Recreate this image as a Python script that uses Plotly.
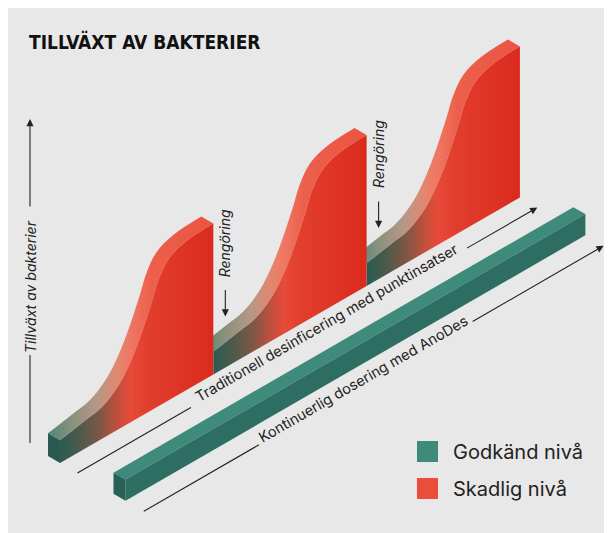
import math
import plotly.graph_objects as go

# ---------------- data ----------------
cleaning_days = [0, 1, 2]          # start of each growth cycle (cleaning happens at day 1 and 2)
period_end = 3                      # end of the observed period
cycle_phase = [0, 0.165, 0.274, 0.383, 0.469, 0.535, 0.599, 0.644, 0.710, 0.817, 1.0]
growth_traditional = [15, 18.5, 21, 29, 41.6, 55.4, 71.5, 84, 93.7, 98.5, 100]   # % of max
growth_continuous = 14              # % of max, AnoDes level
title_text = "TILLVÄXT AV BAKTERIER"
y_label = "Tillväxt av bakterier"
cleaning_label = "Rengöring"
lane_labels = ["Traditionell desinficering med punktinsatser", "Kontinuerlig dosering med AnoDes"]
legend_labels = ["Godkänd nivå", "Skadlig nivå"]

# ---------------- style / projection ----------------
COS, SIN = math.cos(math.radians(30)), math.sin(math.radians(30))
X0, Y0 = 48, 456          # page position of (t=0, d=0, h=0)
DAY = 177                 # px per day along the time axis
HPX = 1.51                # px per growth %
RED_D = (0, 13.9)
LINE1_D = 34
GREEN_D = (75.6, 89.5)
LINE2_D = 110.6
INK = "#222222"
BG = "#e8e8e8"
GREEN_TOP, GREEN_FRONT, GREEN_END = "#3e8a7b", "#2e6d61", "#2a6056"
RED_SWATCH = "#eb4d3b"
FONT = "Inter, Lato, 'Noto Sans', sans-serif"
PAGE_MARGIN = 8           # browser body margin


def P(t, d, h):
    return X0 + (t + d) * COS, Y0 - (t - d) * SIN - h


def poly(points, color):
    xs = [p[0] for p in points] + [points[0][0]]
    ys = [p[1] for p in points] + [points[0][1]]
    return go.Scatter(x=xs, y=ys, mode="lines", fill="toself", fillcolor=color,
                      line=dict(width=0), hoverinfo="skip")


band_scale = [[0, "#4f8878"], [0.15, "#8c917d"], [0.3, "#b69886"], [0.42, "#e3866f"],
              [0.5, "#ef7763"], [0.62, "#ec604b"], [1, "#eb5442"]]
face_scale = [[0, "#295c52"], [0.12, "#4a5a4b"], [0.25, "#7b5746"], [0.36, "#b8503e"],
              [0.46, "#e74b39"], [0.56, "#e23f2f"], [1, "#db2a1d"]]

fig = go.Figure()

# red lane: draw cycles from back to front
hs = [g * HPX for g in growth_traditional]
for k in reversed(range(len(cleaning_days))):
    ts = [(cleaning_days[k] + p) * DAY for p in cycle_phase]
    c0 = [P(t, RED_D[0], h) for t, h in zip(ts, hs)]
    c1 = [P(t, RED_D[1], h) for t, h in zip(ts, hs)]
    base = [P(ts[0], RED_D[1], 0), P(ts[-1], RED_D[1], 0)]
    # top band
    fig.add_trace(go.Scatter(x=[p[0] for p in c0], y=[p[1] for p in c0], mode="lines",
                             line=dict(width=0, shape="spline"), hoverinfo="skip"))
    fig.add_trace(go.Scatter(x=[p[0] for p in c1], y=[p[1] for p in c1], mode="lines",
                             line=dict(width=0, shape="spline"), fill="tonexty",
                             fillgradient=dict(type="horizontal", colorscale=band_scale,
                                               start=c0[0][0], stop=c1[-1][0]),
                             hoverinfo="skip"))
    # front face
    fig.add_trace(go.Scatter(x=[p[0] for p in base], y=[p[1] for p in base], mode="lines",
                             line=dict(width=0), hoverinfo="skip"))
    fig.add_trace(go.Scatter(x=[p[0] for p in c1], y=[p[1] for p in c1], mode="lines",
                             line=dict(width=0, shape="spline"), fill="tonexty",
                             fillgradient=dict(type="horizontal", colorscale=face_scale,
                                               start=c1[0][0], stop=c1[-1][0]),
                             hoverinfo="skip"))

# red lane end face
h0 = hs[0]
fig.add_trace(poly([P(0, RED_D[0], 0), P(0, RED_D[1], 0), P(0, RED_D[1], h0), P(0, RED_D[0], h0)], "#285a50"))

# green lane (continuous dosing)
L = period_end * DAY
hg = growth_continuous * HPX
da, db = GREEN_D
fig.add_trace(poly([P(0, da, hg), P(L, da, hg), P(L, db, hg), P(0, db, hg)], GREEN_TOP))
fig.add_trace(poly([P(0, db, 0), P(L, db, 0), P(L, db, hg), P(0, db, hg)], GREEN_FRONT))
fig.add_trace(poly([P(0, da, 0), P(0, db, 0), P(0, db, hg), P(0, da, hg)], GREEN_END))

annotations = []


def arrow(tip, tail, width=1.1):
    annotations.append(dict(x=tip[0], y=tip[1], ax=tail[0], ay=tail[1], xref="x", yref="y",
                            axref="x", ayref="y", text="", showarrow=True, arrowhead=2,
                            arrowsize=1.3, arrowwidth=width, arrowcolor=INK, standoff=0))


def seg(a, b, width=1.1):
    fig.add_shape(type="line", x0=a[0], y0=a[1], x1=b[0], y1=b[1], line=dict(color=INK, width=width))


# lane labels with lines
lane_specs = [(LINE1_D, 131, 448, lane_labels[0]), (LINE2_D, 133, 378, lane_labels[1])]
for d, g0, g1, label in lane_specs:
    seg(P(0, d, 0), P(g0, d, 0))
    arrow(P(L, d, 0), P(g1, d, 0))
    cx, cy = P((g0 + g1) / 2 + 1, d, 0)
    annotations.append(dict(x=cx - 2.5, y=cy - 4.3, xref="x", yref="y", text=label, showarrow=False,
                            textangle=-30, font=dict(family=FONT, size=14.5, color=INK)))

# cleaning labels
for day in cleaning_days[1:]:
    bx, by = P(day * DAY, RED_D[1], 0)
    x = bx + 12
    arrow((x, by - 58), (x, by - 86))
    annotations.append(dict(x=x, y=by - 131.5, xref="x", yref="y", text=cleaning_label,
                            showarrow=False, textangle=-90,
                            font=dict(family=FONT, size=14, color=INK, style="italic")))

# y axis arrow
seg((30, 443), (30, 355))
arrow((30, 119), (30, 208))
annotations.append(dict(x=30, y=287, xref="x", yref="y", text=y_label, showarrow=False,
                        textangle=-90, font=dict(family=FONT, size=14, color=INK, style="italic")))

# title
annotations.append(dict(x=27, y=41, xref="x", yref="y", text="<b>" + title_text + "</b>",
                        showarrow=False, xanchor="left", yanchor="middle",
                        font=dict(family="'DejaVu Sans Condensed', sans-serif",
                                  size=19, color="#111111")))

# legend
for i, (label, color) in enumerate(zip(legend_labels, [GREEN_TOP, RED_SWATCH])):
    yc = 451.5 + i * 37
    fig.add_shape(type="rect", x0=417, x1=438, y0=yc - 10.5, y1=yc + 10.5, fillcolor=color, line_width=0)
    annotations.append(dict(x=451, y=yc, xref="x", yref="y", text=label, showarrow=False,
                            xanchor="left", yanchor="middle",
                            font=dict(family=FONT, size=20, color=INK)))

fig.update_layout(width=612 - PAGE_MARGIN, height=533 - PAGE_MARGIN, margin=dict(l=0, r=0, t=0, b=0),
                  paper_bgcolor=BG, plot_bgcolor=BG, showlegend=False,
                  annotations=annotations,
                  xaxis=dict(range=[PAGE_MARGIN, 612], visible=False, fixedrange=True),
                  yaxis=dict(range=[533, PAGE_MARGIN], visible=False, fixedrange=True))

fig.write_html("out.html")
